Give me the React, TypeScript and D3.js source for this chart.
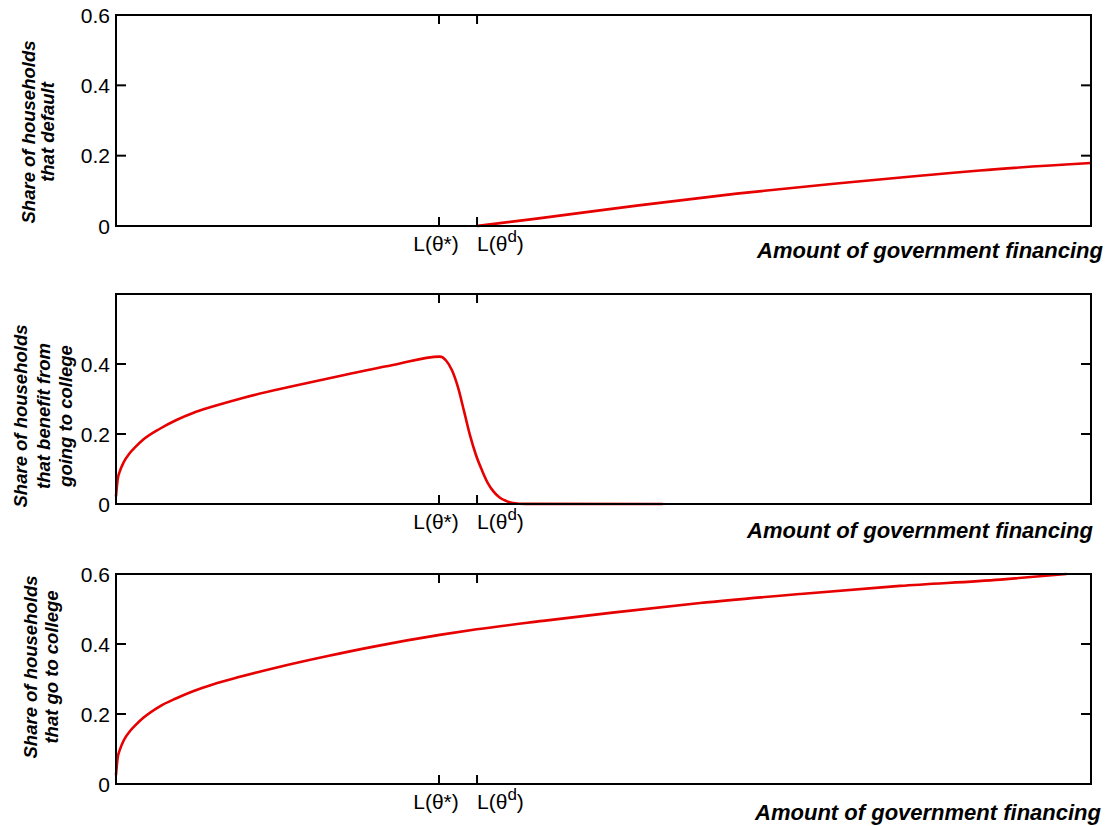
import React from 'react';
import * as d3 from 'd3';

// x positions are in units of the plotted financing range (0..1)
const xTickValues = [0.3313, 0.3703];

const defaultX = [0.3703, 0.4315, 0.534, 0.6366, 0.739, 0.8417, 0.886, 1.0];
const defaultY = [0, 0.021, 0.058, 0.092, 0.121, 0.147, 0.158, 0.179];

const benefitX = [0, 0.0017, 0.004, 0.008, 0.014, 0.02, 0.028, 0.045, 0.062, 0.079, 0.1, 0.13, 0.182,
  0.233, 0.284, 0.3323, 0.3385, 0.3446, 0.3508, 0.3569, 0.3631, 0.3692, 0.3754, 0.3815, 0.3877,
  0.3938, 0.4, 0.4072, 0.4195, 0.561];
const benefitY = [0.022, 0.07, 0.094, 0.12, 0.145, 0.163, 0.184, 0.215, 0.24, 0.26, 0.279, 0.303, 0.337,
  0.368, 0.397, 0.421, 0.41, 0.382, 0.333, 0.266, 0.196, 0.14, 0.096, 0.059, 0.034,
  0.018, 0.009, 0.003, 0.0005, 0];

const collegeX = [0, 0.0017, 0.004, 0.008, 0.014, 0.02, 0.028, 0.045, 0.062, 0.079, 0.1, 0.124, 0.165,
  0.216, 0.267, 0.332, 0.37, 0.438, 0.507, 0.599, 0.702, 0.804, 0.907, 0.975];
const collegeY = [0.025, 0.075, 0.098, 0.125, 0.15, 0.168, 0.189, 0.222, 0.245, 0.265, 0.285, 0.304, 0.333,
  0.365, 0.394, 0.426, 0.442, 0.466, 0.489, 0.517, 0.543, 0.566, 0.584, 0.6];

const panelYTicks = [[0, 0.2, 0.4, 0.6], [0, 0.2, 0.4], [0, 0.2, 0.4, 0.6]];
const yTitles = [
  ['Share of households', 'that default'],
  ['Share of households', 'that benefit from', 'going to college'],
  ['Share of households', 'that go to college'],
];
const xTitle = 'Amount of government financing';

const width = 1111;
const height = 826;
const left = 116;
const right = 1091;
const font = 'Arial, "Liberation Sans", sans-serif';

const panels = [
  { top: 15, bottom: 226, x: defaultX, y: defaultY, titleX: [35, 54], titleY: 132, xTitleEnd: 1103, xTitleDy: 32 },
  { top: 294, bottom: 504, x: benefitX, y: benefitY, titleX: [27, 50, 72], titleY: 416, xTitleEnd: 1093, xTitleDy: 34 },
  { top: 574, bottom: 784, x: collegeX, y: collegeY, titleX: [37, 58], titleY: 667, xTitleEnd: 1101, xTitleDy: 36 },
];

const Panel = ({ p, idx }) => {
  const xScale = d3.scaleLinear().domain([0, 1]).range([left, right]);
  const yScale = d3.scaleLinear().domain([0, 0.6]).range([p.bottom, p.top]);
  const pts = p.x.map((v, i) => [v, p.y[i]]);
  const line = d3
    .line()
    .x(d => xScale(d[0]))
    .y(d => yScale(d[1]))
    .curve(d3.curveMonotoneX);
  const fmt = d => (d === 0 ? '0' : d3.format('.1f')(d));

  return (
    <g>
      <path d={line(pts)} fill='none' stroke='#e60000' strokeWidth={2.6} strokeLinejoin='round' />
      <rect x={left} y={p.top} width={right - left} height={p.bottom - p.top}
        fill='none' stroke='#000' strokeWidth={2} />
      {panelYTicks[idx].map(t => (
        <g key={`y-${t}`}>
          <line x1={left} x2={left + 10} y1={yScale(t)} y2={yScale(t)} stroke='#000' strokeWidth={2} />
          <line x1={right - 10} x2={right} y1={yScale(t)} y2={yScale(t)} stroke='#000' strokeWidth={2} />
          <text x={110} y={yScale(t)} dy='0.36em' textAnchor='end' fontSize={21}
            fontFamily={font}>{fmt(t)}</text>
        </g>
      ))}
      {xTickValues.map(t => (
        <g key={`x-${t}`}>
          <line x1={xScale(t)} x2={xScale(t)} y1={p.bottom} y2={p.bottom - 9} stroke='#000' strokeWidth={2} />
          <line x1={xScale(t)} x2={xScale(t)} y1={p.top} y2={p.top + 9} stroke='#000' strokeWidth={2} />
        </g>
      ))}
      <text x={xScale(xTickValues[0]) - 3} y={p.bottom + 25} textAnchor='middle' fontSize={21} fontFamily={font}>
        L(θ*)
      </text>
      <text x={xScale(xTickValues[1])} y={p.bottom + 25} textAnchor='start' fontSize={21} fontFamily={font}>
        <tspan>L(θ</tspan>
        <tspan dy={-9} fontSize={17}>d</tspan>
        <tspan dy={9}>)</tspan>
      </text>
      <text x={p.xTitleEnd} y={p.bottom + p.xTitleDy} textAnchor='end' fontSize={22}
        fontWeight='bold' fontStyle='italic' fontFamily={font}>{xTitle}</text>
      {yTitles[idx].map((s, i) => (
        <text key={s} transform={`translate(${p.titleX[i]},${p.titleY}) rotate(-90)`} textAnchor='middle'
          fontSize={18.5} fontWeight='bold' fontStyle='italic' fontFamily={font}>{s}</text>
      ))}
    </g>
  );
};

export default function App() {
  return (
    <svg width={width} height={height} viewBox={`0 0 ${width} ${height}`}
      style={{ position: 'absolute', left: 0, top: 0, background: '#fff' }}>
      {panels.map((p, i) => <Panel key={i} p={p} idx={i} />)}
    </svg>
  );
}
